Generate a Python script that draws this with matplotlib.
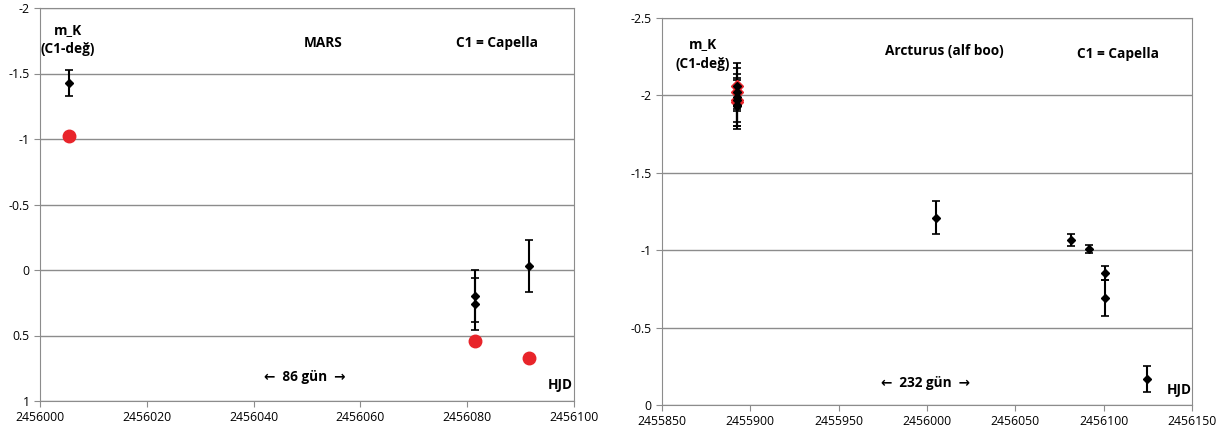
import matplotlib.pyplot as plt

plt.rcParams['font.family'] = ['Open Sans', 'DejaVu Sans']

# MARS panel
mars_hjd = [2456005.5, 2456081.5, 2456081.5, 2456091.5]
mars_mk = [-1.43, 0.20, 0.26, -0.03]
mars_err = [0.10, 0.20, 0.20, 0.20]
mars_red_hjd = [2456005.5, 2456081.5, 2456091.5]
mars_red_mk = [-1.02, 0.54, 0.67]

# Arcturus panel
arc_hjd = [2455892.5, 2455892.5, 2455892.5, 2455892.5, 2455892.5, 2455892.5,
           2456005, 2456081.5, 2456091.5, 2456100.5, 2456100.5, 2456124.5]
arc_mk = [-2.06, -2.02, -1.99, -1.97, -1.94, -1.93,
          -1.21, -1.067, -1.01, -0.85, -0.69, -0.17]
arc_err = [0.15, 0.12, 0.19, 0.14, 0.16, 0.13,
           0.105, 0.04, 0.025, 0.045, 0.115, 0.085]
arc_red_hjd = [2455892.5, 2455892.5, 2455892.5, 2455892.5]
arc_red_mk = [-2.06, -2.02, -1.97, -1.96]

fig = plt.figure(figsize=(12.27, 4.34), dpi=100)
ax1 = fig.add_axes([40/1227, 1-401/434, 534/1227, 393/434])
ax2 = fig.add_axes([662/1227, 1-405/434, 530/1227, 387/434])

for ax in (ax1, ax2):
    ax.grid(True, axis='y', color='#8c8c8c', lw=1)
    ax.set_axisbelow(True)
    for s in ax.spines.values():
        s.set_color('#8c8c8c')
    ax.tick_params(labelsize=8.8, color='#8c8c8c', length=4)

ax1.errorbar(mars_hjd, mars_mk, yerr=mars_err, fmt='D', color='black', ms=4.5,
             capsize=3, elinewidth=1.5, capthick=1.2)
ax1.plot(mars_red_hjd, mars_red_mk, 'o', color='#e8242a', ms=9)
ax1.set_xlim(2456000, 2456100)
ax1.set_ylim(1, -2)
ax1.set_xticks(range(2456000, 2456101, 20))
ax1.set_yticks([-2, -1.5, -1, -0.5, 0, 0.5, 1])
ax1.set_yticklabels(['-2', '-1.5', '-1', '-0.5', '0', '0.5', '1'])
ax1.ticklabel_format(axis='x', useOffset=False, style='plain')

kw = dict(ha='center', va='center', fontsize=9.8, fontweight='bold')
ax1.text(2456005.2, -1.83, 'm_K', **kw)
ax1.text(2456005.2, -1.69, '(C1-değ)', **kw)
ax1.text(2456053, -1.73, 'MARS', **kw)
ax1.text(2456085.6, -1.73, 'C1 = Capella', **kw)
ax1.text(2456049.6, 0.82, '←  86 gün  →', **kw)
ax1.text(2456097.4, 0.88, 'HJD', **kw)

ax2.errorbar(arc_hjd, arc_mk, yerr=arc_err, fmt='D', color='black', ms=4.5,
             capsize=3, elinewidth=1.5, capthick=1.2)
ax2.plot(arc_red_hjd, arc_red_mk, 'D', color='#e8242a', ms=6.5)
ax2.set_xlim(2455850, 2456150)
ax2.set_ylim(0, -2.5)
ax2.set_xticks(range(2455850, 2456151, 50))
ax2.set_yticks([-2.5, -2, -1.5, -1, -0.5, 0])
ax2.set_yticklabels(['-2.5', '-2', '-1.5', '-1', '-0.5', '0'])
ax2.ticklabel_format(axis='x', useOffset=False, style='plain')

ax2.text(2455873, -2.33, 'm_K', **kw)
ax2.text(2455873, -2.20, '(C1-değ)', **kw)
ax2.text(2456010, -2.29, 'Arcturus (alf boo)', **kw)
ax2.text(2456108, -2.27, 'C1 = Capella', **kw)
ax2.text(2455999, -0.14, '←  232 gün  →', **kw)
ax2.text(2456143, -0.10, 'HJD', **kw)

fig.savefig('out.png', dpi=100)
